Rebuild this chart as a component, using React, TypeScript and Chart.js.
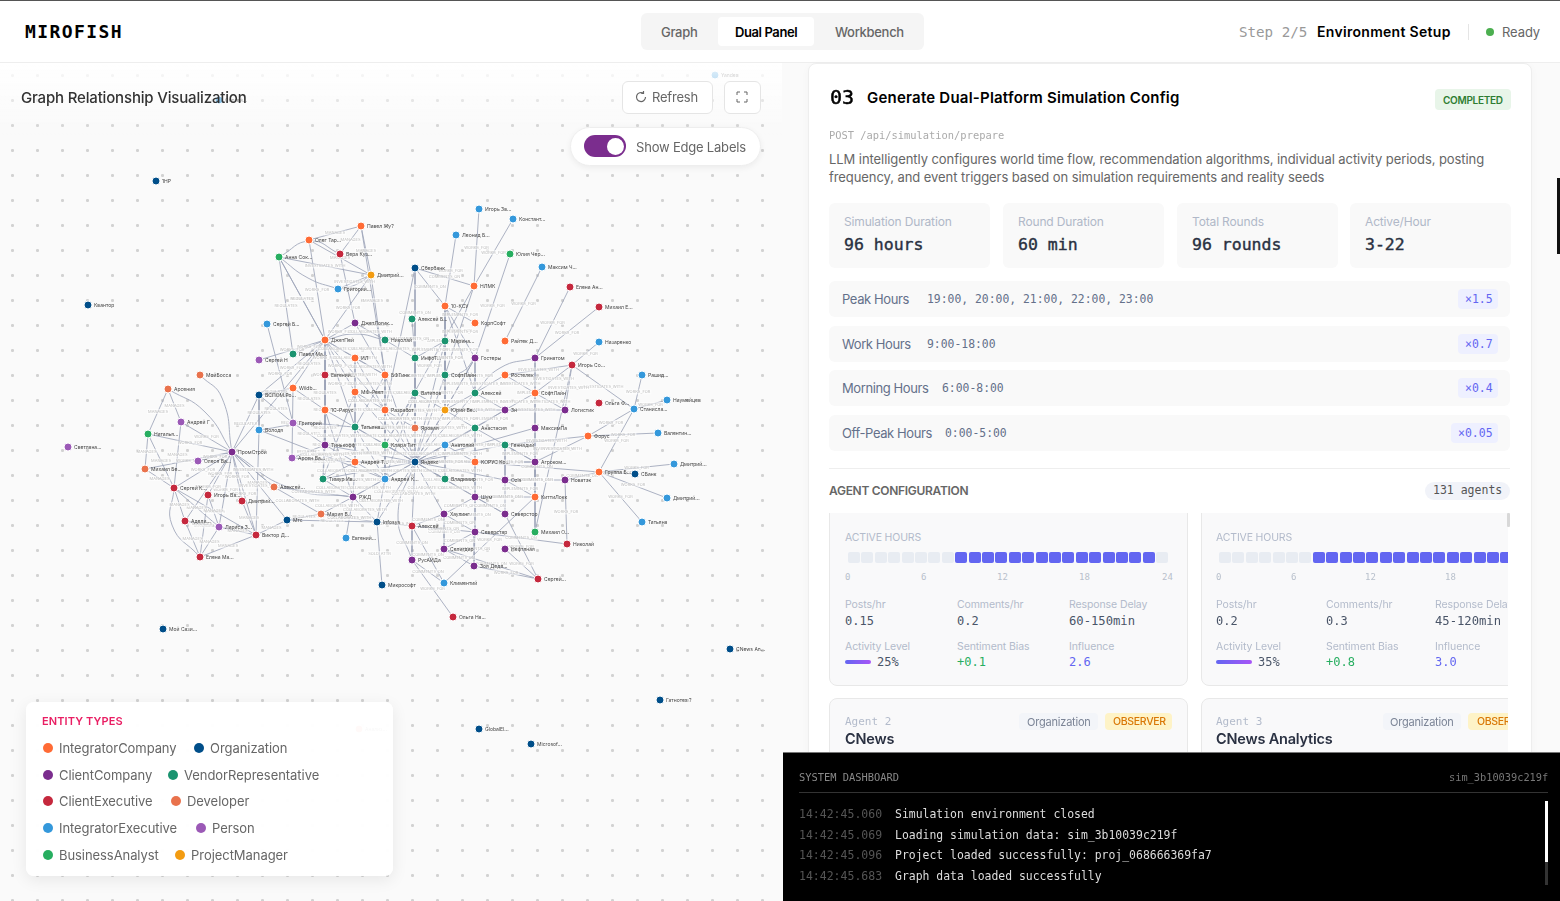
import { useEffect, useRef } from "react";
import type { CSSProperties, ReactNode } from "react";
import Chart from "chart.js/auto";

const SANS = "Inter, 'Noto Sans', sans-serif";
const MONO = "'DejaVu Sans Mono', 'Liberation Mono', monospace";

const typeNames = ["IntegratorCompany", "Organization", "ClientCompany", "VendorRepresentative", "ClientExecutive", "Developer", "IntegratorExecutive", "Person", "BusinessAnalyst", "ProjectManager"];
const typeColors = ["#FF6B35", "#004E89", "#7B2D8E", "#1A936F", "#C5283D", "#E9724C", "#3498DB", "#9B59B6", "#27AE60", "#F39C12"];

const nodeNames = [
  "Павел Жу?", "Олег Тар...", "Вера Куз...", "Анна Сок...", "Дмитрий...", "Григорий...", "ДжетЛогик...", "Сергей Б...", "ДжетПей", "Николай", "Павел Ма...", "Сергей Н", "ИЛ", "Евгений...", "БФТинк", "МойБосса", "Арсения", "Wildb...",
  "Игорь Зв...", "Констант...", "Леонид Б...", "Юлия Чер...", "Сбербанк", "Максим Ч...", "НЛМК", "Елена Ан...", "10-КСУ", "Михаил Е...", "Алексей Б...", "КорпСофт", "Марина...", "Райтек Д...", "Назаренко", "ИнфоТ...", "Гостеры", "Гринатом", "Игорь Со...", "СофтЛайн", "Ростелек", "Рашид...", "Ватипов", "Алексей", "СофтЛайн", "Ольга Ф...", "Наумейцев", "Станисла...", "Юрий Ве...", "Зн", "Логистик",
  "ВСПОМ.Ро...", "МФ-Реет", "1С-Рарус", "Разработ", "Андрей Г", "Григорий", "Татьяна...", "Яровая", "Анастасия", "МаксимПа", "Володя", "Наталья...", "Форус", "Валентин...", "Клара Тит", "Тинькофф", "Анатолий", "Геннадий", "ПромСтрой", "Арсен Ва...", "Олеся Ва...", "Яндекс", "Андрей Т...", "КОРУС Ко...", "Агроком...", "Дмитрий...", "Михаил Бе...", "Группа Б...", "СБанк", "Тимур Ив...", "Андрей К...", "Владимир", "Ozis", "Новатэк", "Сергей К...", "Алексей...", "Игорь Ва...", "РЖД", "Дмитрий...", "Шум", "КиттиЛокк", "Дмитрий...", "Мария В...", "Хаулинг", "Северстор", "Мтс", "Адели...", "Infosys", "Татьяна", "Алексей", "Лариса З...", "Северстар", "Михаил О...", "Виктор Д...", "Евгений...", "Николай", "Селигдар", "Нефтяная", "Елена Ма...", "РусАЙДа", "Зоя Дедя...", "Сергей...", "Климентий", "Микрософт", "Ольга На...",
  "1НР", "Квантор", "Мой Сази...", "CNews An...", "Гатнотех ?", "GlobalEl...", "Microsof...", "Светлана...", "Сергей...", "Yandex", "Анализ...",
];
const nodeX = [361, 309, 340, 279, 371, 338, 355, 267, 325, 385, 293, 259, 355, 325, 385, 200, 168, 293, 479, 513, 456, 510, 415, 542, 474, 570, 445, 599, 412, 475, 445, 505, 599, 415, 475, 535, 572, 445, 505, 642, 415, 475, 535, 599, 667, 634, 445, 505, 565, 259, 355, 325, 385, 181, 293, 355, 415, 475, 535, 259, 148, 588, 658, 385, 325, 445, 505, 232, 292, 198, 415, 355, 475, 535, 674, 145, 599, 635, 323, 385, 445, 505, 565, 174, 274, 208, 353, 242, 475, 535, 667, 321, 444, 505, 287, 185, 377, 642, 412, 219, 475, 535, 256, 346, 567, 444, 505, 200, 412, 474, 538, 444, 382, 453, 156, 88, 163, 730, 660, 479, 531, 68, 219, 715, 359];
const nodeY = [226, 240, 254, 257, 275, 289, 323, 324, 340, 340, 354, 360, 358, 375, 375, 375, 389, 388, 209, 219, 235, 254, 268, 267, 286, 287, 306, 307, 319, 323, 341, 341, 342, 358, 358, 358, 365, 375, 375, 375, 393, 393, 393, 403, 400, 409, 410, 410, 410, 395, 392, 410, 410, 422, 423, 427, 428, 428, 428, 430, 434, 436, 433, 445, 445, 445, 445, 452, 458, 461, 462, 462, 462, 462, 464, 469, 472, 474, 479, 479, 479, 480, 480, 488, 487, 495, 497, 501, 497, 497, 498, 514, 514, 514, 520, 521, 522, 522, 526, 527, 532, 532, 535, 538, 544, 549, 549, 557, 560, 566, 579, 583, 585, 617, 181, 305, 629, 649, 700, 729, 744, 447, 100, 75, 729];
const nodeTypes = [0, 0, 4, 8, 9, 6, 2, 6, 0, 3, 3, 7, 0, 4, 0, 5, 5, 0, 6, 6, 6, 8, 1, 6, 0, 4, 0, 4, 3, 0, 3, 0, 6, 3, 2, 2, 4, 3, 0, 6, 3, 3, 0, 4, 6, 6, 9, 2, 2, 1, 0, 0, 0, 7, 7, 3, 5, 3, 2, 6, 8, 0, 6, 8, 2, 6, 3, 2, 7, 7, 1, 0, 0, 2, 6, 5, 0, 1, 3, 6, 3, 2, 2, 4, 5, 4, 2, 4, 2, 0, 6, 5, 2, 2, 1, 4, 1, 6, 4, 7, 2, 8, 4, 6, 4, 2, 2, 4, 2, 2, 4, 6, 1, 4, 1, 1, 1, 1, 1, 1, 1, 7, 6, 6, 5];

const worksFor = [[3, 8], [4, 8], [6, 8], [10, 8], [11, 8], [1, 8], [7, 54], [18, 24], [19, 24], [20, 26], [21, 34], [23, 31], [25, 35], [27, 35], [32, 36], [39, 45], [44, 45], [45, 61], [45, 76], [61, 62], [76, 74], [76, 90], [76, 97], [82, 104], [108, 113], [53, 67], [60, 67], [69, 67], [85, 67], [87, 67], [99, 67], [102, 67], [83, 67], [75, 67], [95, 67], [84, 67], [93, 110], [106, 110], [109, 110], [89, 111], [8, 13], [8, 50], [8, 51], [8, 52], [8, 55], [8, 49], [8, 67], [24, 63], [24, 37]];
const manages = [[1, 0], [1, 4], [0, 2], [0, 4], [0, 14], [16, 53], [16, 60], [60, 83], [75, 83], [60, 75], [53, 83], [83, 99], [83, 102], [83, 95], [85, 107], [95, 107], [99, 107], [95, 99], [87, 102], [99, 102], [102, 107], [85, 99], [2, 6], [4, 14], [102, 59], [94, 102]];
const regulates = [[3, 10], [3, 8], [8, 17], [17, 51], [49, 17], [49, 54], [51, 64], [54, 64], [78, 64], [67, 49], [94, 96], [94, 91], [63, 79], [51, 78], [13, 51], [13, 64], [17, 68], [64, 68], [49, 59]];
const collaborates = [[70, 63], [70, 56], [70, 65], [70, 52], [70, 14], [70, 33], [70, 40], [70, 46], [70, 71], [70, 55], [70, 72], [70, 57], [70, 58], [70, 73], [70, 80], [70, 79], [70, 86], [70, 96], [70, 78], [70, 88], [70, 81], [70, 51], [70, 50], [70, 64], [70, 47], [70, 66], [70, 34], [70, 41], [70, 37], [70, 30], [70, 92], [70, 98], [70, 93], [8, 12], [8, 14], [6, 14], [12, 14], [12, 50], [12, 52], [14, 52], [14, 55], [50, 52], [50, 55], [50, 78], [51, 86], [55, 71], [55, 79], [52, 56], [52, 79], [52, 63], [14, 63], [9, 33], [9, 6], [33, 40], [33, 56], [40, 56], [40, 63], [40, 46], [40, 79], [71, 78], [71, 86], [71, 79], [71, 64], [78, 86], [86, 79], [86, 96], [86, 91], [86, 84], [79, 96], [96, 91], [96, 98], [86, 103], [91, 84], [59, 79], [68, 71]];
const implementsFor = [[26, 29], [26, 34], [26, 37], [26, 41], [26, 46], [37, 46], [37, 30], [30, 46], [30, 33], [41, 46], [41, 47], [34, 46], [34, 41], [57, 47], [57, 46], [57, 72], [57, 73], [65, 80], [65, 72], [66, 81], [66, 73], [72, 88], [72, 73], [73, 89], [81, 89], [88, 89], [58, 101], [35, 58]];
const commentsOn = [[22, 24], [22, 26], [22, 33], [22, 52], [28, 33], [76, 77], [76, 82], [76, 72], [82, 81], [105, 110], [105, 109], [100, 109], [100, 104], [100, 92], [100, 105], [92, 105], [92, 88], [88, 93], [88, 100], [93, 81], [98, 108], [108, 111], [98, 100], [98, 111], [92, 98]];
const investigates = [[36, 45], [36, 38], [36, 42], [36, 48], [36, 101], [42, 48], [42, 47], [38, 41], [38, 42], [47, 48], [46, 47], [61, 66], [61, 73], [67, 84], [67, 94], [3, 4], [5, 4]];
const soldAttr = [[96, 112]];

// from, to, bend point x, bend point y
const curvedEdges = [[3, 2, 310, 241], [16, 67, 205, 412], [15, 67, 222, 398], [83, 107, 172, 525], [3, 5, 308, 278], [5, 4, 355, 285], [8, 9, 355, 334], [35, 41, 500, 368], [67, 86, 290, 488], [59, 55, 305, 424], [70, 108, 398, 515], [34, 37, 462, 372]];

const edgeKinds: [string, number[][]][] = [
  ["WORKS_FOR", worksFor], ["MANAGES", manages], ["REGULATES", regulates], ["COLLABORATES_WITH", collaborates],
  ["IMPLEMENTS_FOR", implementsFor], ["COMMENTS_ON", commentsOn], ["INVESTIGATES_WITH", investigates], ["SOLD_ATTR", soldAttr],
];

const statLabels = ["Simulation Duration", "Round Duration", "Total Rounds", "Active/Hour"];
const statValues = ["96 hours", "60 min", "96 rounds", "3-22"];
const statLefts = [829, 1003, 1177, 1350];
const hourRows = [
  ["Peak Hours", "19:00, 20:00, 21:00, 22:00, 23:00", "×1.5", 281, 927, 1458],
  ["Work Hours", "9:00-18:00", "×0.7", 326, 927, 1458],
  ["Morning Hours", "6:00-8:00", "×0.4", 370, 942, 1458],
  ["Off-Peak Hours", "0:00-5:00", "×0.05", 415, 945, 1451],
] as const;
const logTimes = ["14:42:45.060", "14:42:45.069", "14:42:45.096", "14:42:45.683"];
const logLines = ["Simulation environment closed", "Loading simulation data: sim_3b10039c219f", "Project loaded successfully: proj_068666369fa7", "Graph data loaded successfully"];
const legendRows = [[0, 1, 199], [2, 3, 173], [4, 5, 176], [6, 7, 201], [8, 9, 180]];
const legendY = [748, 775, 801, 828, 855];

function T({ x, y, s, c, w, m, ls, stroke, children }: { x: number; y: number; s: number; c: string; w?: number; m?: boolean; ls?: number; stroke?: number; children: ReactNode }) {
  const st: CSSProperties = {
    position: "absolute", left: x, top: y, transform: "translateY(-50%)", fontSize: s, color: c, fontWeight: w ?? 400,
    fontFamily: m ? MONO : SANS, letterSpacing: ls ?? (m ? 0 : -0.1), whiteSpace: "nowrap", lineHeight: 1,
    WebkitTextStroke: stroke ? `${stroke}px ${c}` : undefined,
  };
  return <div style={st}>{children}</div>;
}

function Box({ x, y, w, h, bg, r, border, shadow, children, clip }: { x: number; y: number; w: number; h: number; bg?: string; r?: number; border?: string; shadow?: string; children?: ReactNode; clip?: boolean }) {
  return (
    <div style={{ position: "absolute", left: x, top: y, width: w, height: h, background: bg, borderRadius: r, border, boxShadow: shadow, boxSizing: "border-box", overflow: clip ? "hidden" : undefined }}>
      {children}
    </div>
  );
}

function Graph() {
  const ref = useRef<HTMLCanvasElement | null>(null);
  useEffect(() => {
    if (!ref.current) return;
    const pt = (i: number) => ({ x: nodeX[i], y: nodeY[i] });
    const gap = { x: NaN, y: NaN };
    const straight: any[] = [];
    edgeKinds.forEach(([, list]) => list.forEach(([a, b]) => straight.push(pt(a), pt(b), gap)));
    const curved: any[] = [];
    curvedEdges.forEach(([a, b, mx, my]) => curved.push(pt(a), { x: mx, y: my }, pt(b), gap));

    const edgeStyle = { showLine: true, pointRadius: 0, pointHoverRadius: 0, borderColor: "rgba(158,164,184,0.85)", borderWidth: 1, spanGaps: false };
    const nodeSets = typeNames.map((name, t) => ({
      label: name,
      data: nodeX.map((_, i) => i).filter((i) => nodeTypes[i] === t).map(pt),
      backgroundColor: typeColors[t],
      borderColor: "#ffffff",
      borderWidth: 1,
      pointRadius: 4,
      order: 0,
    }));

    const graphText = {
      id: "graphText",
      afterDatasetDraw(chart: any, args: any) {
        if (chart.data.datasets[args.index].label !== "edges") return;
        const ctx = chart.ctx;
        const sx = chart.scales.x;
        const sy = chart.scales.y;
        ctx.save();
        ctx.font = "4px Inter, sans-serif";
        ctx.textAlign = "center";
        ctx.textBaseline = "middle";
        edgeKinds.forEach(([label, list]) => list.forEach(([a, b]) => {
          const px = sx.getPixelForValue((nodeX[a] + nodeX[b]) / 2);
          const py = sy.getPixelForValue((nodeY[a] + nodeY[b]) / 2);
          const tw = ctx.measureText(label).width;
          ctx.fillStyle = "rgba(255,255,255,0.55)";
          ctx.fillRect(px - tw / 2 - 1, py - 2.5, tw + 2, 5);
          ctx.fillStyle = "#bdbdbd";
          ctx.fillText(label, px, py);
        }));
        ctx.restore();
      },
      afterDatasetsDraw(chart: any) {
        const ctx = chart.ctx;
        ctx.save();
        ctx.font = "5px Inter, sans-serif";
        ctx.textBaseline = "middle";
        ctx.fillStyle = "#444444";
        nodeNames.forEach((name, i) => {
          ctx.fillText(name, chart.scales.x.getPixelForValue(nodeX[i]) + 6, chart.scales.y.getPixelForValue(nodeY[i]));
        });
        ctx.restore();
      },
    };

    const chart = new Chart(ref.current, {
      type: "scatter",
      data: {
        datasets: [
          ...nodeSets,
          { label: "edges", data: straight, ...edgeStyle, order: 2 },
          { label: "curves", data: curved, ...edgeStyle, tension: 0.5, order: 3 },
        ] as any,
      },
      options: {
        animation: false,
        responsive: false,
        devicePixelRatio: 1,
        events: [],
        layout: { padding: 0, autoPadding: false },
        plugins: { legend: { display: false }, tooltip: { enabled: false } },
        scales: {
          x: { type: "linear", display: false, min: 0, max: 782 },
          y: { type: "linear", display: false, min: 63, max: 901, reverse: true },
        },
      },
      plugins: [graphText],
    });
    return () => chart.destroy();
  }, []);
  return <canvas ref={ref} width={782} height={838} style={{ position: "absolute", left: 0, top: 63, width: 782, height: 838 }} />;
}

function HourBlocks({ x, from, to }: { x: number; from: number; to: number }) {
  const hours = Array.from({ length: 24 }, (_, h) => h);
  return (
    <>
      {hours.map((h) => (
        <Box key={h} x={x + h * 13.4} y={552} w={12} h={11} r={2} bg={h >= from && h <= to ? "#6366F1" : "#E8ECF2"} />
      ))}
    </>
  );
}

function AgentStats({ left, c2, c3, posts, comments, delay, level, barW, bias, influence, ticks }: any) {
  const lab = "#B3BBCB";
  return (
    <>
      <T x={left} y={538} s={10.5} c={lab} ls={-0.15}>ACTIVE HOURS</T>
      <HourBlocks x={left + 3} from={ticks.from} to={ticks.to} />
      {ticks.pos.map((px: number, i: number) => (
        <T key={i} x={px} y={577} s={9} c="#B8C0CC" m>{ticks.labels[i]}</T>
      ))}
      <T x={left} y={605} s={10.5} c={lab}>Posts/hr</T>
      <T x={c2} y={605} s={10.5} c={lab}>Comments/hr</T>
      <T x={c3} y={605} s={10.5} c={lab}>Response Delay</T>
      <T x={left} y={621} s={12} c="#4A5568" m>{posts}</T>
      <T x={c2} y={621} s={12} c="#4A5568" m>{comments}</T>
      <T x={c3} y={621} s={12.2} c="#4A5568" m>{delay}</T>
      <T x={left} y={647} s={10.5} c={lab}>Activity Level</T>
      <T x={c2} y={647} s={10.5} c={lab}>Sentiment Bias</T>
      <T x={c3} y={647} s={10.5} c={lab}>Influence</T>
      <div style={{ position: "absolute", left, top: 660, width: barW, height: 4, borderRadius: 2, background: "linear-gradient(90deg,#6366F1,#A855F7)" }} />
      <T x={left + barW + 6} y={662} s={12} c="#4A5568" m>{level}</T>
      <T x={c2} y={662} s={12} c="#27AE60" m>{bias}</T>
      <T x={c3} y={662} s={12} c="#6366F1" m>{influence}</T>
    </>
  );
}

export default function App() {
  return (
    <div style={{ position: "fixed", left: 0, top: 0, width: 1560, height: 901, overflow: "hidden", background: "#FAFAFA", fontFamily: SANS }}>
      {/* left graph panel */}
      <div style={{ position: "absolute", left: 0, top: 63, width: 782, height: 838, background: "#FAFAFA", backgroundImage: "radial-gradient(circle, #D2D2D2 1.3px, transparent 1.7px)", backgroundSize: "25px 25px" }} />
      <Graph />
      <div style={{ position: "absolute", left: 0, top: 63, width: 782, height: 72, background: "linear-gradient(to bottom, rgba(255,255,255,0.92), rgba(255,255,255,0))" }} />
      <T x={21} y={97} s={15} c="#333333" w={500} ls={-0.17}>Graph Relationship Visualization</T>
      <Box x={622} y={81} w={91} h={33} bg="#FFFFFF" r={6} border="1px solid #E5E5E5" />
      <svg style={{ position: "absolute", left: 634, top: 90 }} width={14} height={14} viewBox="0 0 14 14" fill="none" stroke="#666666" strokeWidth={1.2}>
        <path d="M11.5 7a4.5 4.5 0 1 1-2-3.7M9.5 1v2.4h-2.4" />
      </svg>
      <T x={652} y={97} s={13} c="#666666" ls={-0.2}>Refresh</T>
      <Box x={724} y={81} w={37} h={33} bg="#FFFFFF" r={6} border="1px solid #E5E5E5" />
      <svg style={{ position: "absolute", left: 736, top: 91 }} width={12} height={12} viewBox="0 0 12 12" fill="none" stroke="#666666" strokeWidth={1}>
        <path d="M1 4V1h3M8 1h3v3M11 8v3H8M4 11H1V8" />
      </svg>
      <Box x={570} y={127} w={191} h={39} bg="#FFFFFF" r={20} border="1px solid #EEEEEE" shadow="0 2px 6px rgba(0,0,0,0.06)" />
      <Box x={584} y={135} w={42} h={22} bg="#7B2D8E" r={11} />
      <Box x={607} y={138} w={17} h={17} bg="#FFFFFF" r={9} />
      <T x={636} y={147} s={13} c="#666666" ls={-0.2}>Show Edge Labels</T>

      {/* legend */}
      <Box x={26} y={702} w={367} h={174} bg="rgba(255,255,255,0.96)" r={8} shadow="0 4px 16px rgba(0,0,0,0.08)" />
      <T x={42} y={721} s={11} c="#E91E63" w={600} ls={0.1}>ENTITY TYPES</T>
      {legendRows.map(([a, b, dx], i) => (
        <div key={i}>
          <Box x={43} y={legendY[i] - 5} w={10} h={10} r={5} bg={typeColors[a]} />
          <T x={59} y={legendY[i]} s={13} c="#666666" ls={-0.07}>{typeNames[a]}</T>
          <Box x={dx - 5} y={legendY[i] - 5} w={10} h={10} r={5} bg={typeColors[b]} />
          <T x={dx + 11} y={legendY[i]} s={13} c="#666666" ls={-0.05}>{typeNames[b]}</T>
        </div>
      ))}

      {/* header */}
      <Box x={0} y={0} w={1560} h={63} bg="#FFFFFF" border="none" />
      <Box x={0} y={0} w={1560} h={1} bg="#555555" />
      <Box x={0} y={62} w={1560} h={1} bg="#EEEEEE" />
      <T x={25} y={32} s={18} c="#000000" w={700} m ls={1.4}>MIROFISH</T>
      <Box x={641} y={13} w={283} h={37} bg="#F5F5F5" r={6} />
      <Box x={718} y={17} w={96} h={29} bg="#FFFFFF" r={4} />
      <T x={661} y={32} s={13} c="#666666" w={500} ls={-0.3}>Graph</T>
      <T x={735} y={32} s={13} c="#000000" w={600} ls={-0.4}>Dual Panel</T>
      <T x={835} y={32} s={13} c="#666666" w={500} ls={-0.3}>Workbench</T>
      <T x={1239} y={32} s={14.2} c="#999999" m>Step 2/5</T>
      <T x={1317} y={32} s={14} c="#000000" w={600} ls={0.3}>Environment Setup</T>
      <Box x={1468} y={24} w={1} h={16} bg="#E5E5E5" />
      <Box x={1486} y={28} w={8} h={8} r={4} bg="#4CAF50" />
      <T x={1502} y={32} s={13} c="#666666">Ready</T>

      {/* right panel */}
      <Box x={808} y={63} w={724} h={700} bg="#FFFFFF" r={8} border="1px solid #EEEEEE" shadow="0 2px 8px rgba(0,0,0,0.03)" />
      <T x={830} y={97} s={20} c="#000000" m stroke={0.5}>03</T>
      <T x={867} y={97} s={15} c="#000000" w={600} ls={0.22}>Generate Dual-Platform Simulation Config</T>
      <Box x={1435} y={89} w={76} h={21} bg="#E8F5E9" r={4} />
      <T x={1443} y={100} s={10} c="#2E7D32" w={600} ls={-0.3}>COMPLETED</T>
      <T x={829} y={135} s={10.4} c="#AAAAAA" m>POST /api/simulation/prepare</T>
      <T x={829} y={159} s={13} c="#666666" ls={-0.07}>LLM intelligently configures world time flow, recommendation algorithms, individual activity periods, posting</T>
      <T x={829} y={177} s={13} c="#666666" ls={-0.07}>frequency, and event triggers based on simulation requirements and reality seeds</T>
      {statLabels.map((label, i) => (
        <div key={label}>
          <Box x={statLefts[i]} y={203} w={161} h={65} bg="#F9F9F9" r={6} />
          <T x={statLefts[i] + 15} y={222} s={12} c="#B0B8C8" ls={-0.15}>{label}</T>
          <T x={statLefts[i] + 15} y={245} s={16.5} c="#2A3142" m stroke={0.4}>{statValues[i]}</T>
        </div>
      ))}
      {hourRows.map(([label, value, mult, top, vx, bx]) => (
        <div key={label}>
          <Box x={829} y={top} w={681} h={36} bg="#F9F9F9" r={6} />
          <T x={842} y={top + 18} s={13} c="#64708A" ls={-0.4}>{label}</T>
          <T x={vx} y={top + 19} s={11.4} c="#64708A" m>{value}</T>
          <Box x={bx} y={top + 8} w={1498 - bx} h={20} bg="#EEF0FF" r={4} />
          <T x={bx + 7} y={top + 19} s={11.5} c="#6366F1" m>{mult}</T>
        </div>
      ))}
      <Box x={829} y={468} w={681} h={1} bg="#EEEEEE" />
      <T x={829} y={491} s={12} c="#666666" w={600} ls={-0.3}>AGENT CONFIGURATION</T>
      <Box x={1425} y={482} w={85} h={18} bg="#F1F3F9" r={9} />
      <T x={1433} y={491} s={11.5} c="#555555" m>131 agents</T>

      {/* agent cards, clipped by their scroller */}
      <div style={{ position: "absolute", left: 0, top: 513, width: 1508, height: 240, overflow: "hidden" }}>
        <div style={{ position: "absolute", left: 0, top: -513, width: 1560, height: 901 }}>
          <Box x={829} y={500} w={359} h={186} bg="#F9F9FA" r={8} border="1px solid #E8E8E8" />
          <Box x={1201} y={500} w={359} h={186} bg="#F9F9FA" r={8} border="1px solid #E8E8E8" />
          <AgentStats left={845} c2={957} c3={1069} posts="0.15" comments="0.2" delay="60-150min" level="25%" barW={26} bias="+0.1" influence="2.6"
            ticks={{ from: 8, to: 22, pos: [845, 921, 997, 1079, 1162], labels: ["0", "6", "12", "18", "24"] }} />
          <AgentStats left={1216} c2={1326} c3={1435} posts="0.2" comments="0.3" delay="45-120min" level="35%" barW={36} bias="+0.8" influence="3.0"
            ticks={{ from: 7, to: 21, pos: [1216, 1291, 1365, 1445], labels: ["0", "6", "12", "18"] }} />
          <Box x={829} y={698} w={359} h={120} bg="#F9F9FA" r={8} border="1px solid #E8E8E8" />
          <Box x={1201} y={698} w={359} h={120} bg="#F9F9FA" r={8} border="1px solid #E8E8E8" />
          <T x={845} y={721} s={11} c="#B3BBCB" m>Agent 2</T>
          <T x={845} y={739} s={14.5} c="#2A3142" w={600} ls={-0.2}>CNews</T>
          <Box x={1019} y={713} w={79} h={17} bg="#F3F5F9" r={4} />
          <T x={1027} y={722} s={11} c="#7B8496" ls={-0.2}>Organization</T>
          <Box x={1105} y={713} w={67} h={17} bg="#FEF3C7" r={4} />
          <T x={1113} y={722} s={10.5} c="#D97706" w={500} ls={-0.3}>OBSERVER</T>
          <T x={1216} y={721} s={11} c="#B3BBCB" m>Agent 3</T>
          <T x={1216} y={739} s={14.5} c="#2A3142" w={600} ls={-0.2}>CNews Analytics</T>
          <Box x={1383} y={713} w={78} h={17} bg="#F3F5F9" r={4} />
          <T x={1390} y={722} s={11} c="#7B8496" ls={-0.2}>Organization</T>
          <Box x={1468} y={713} w={67} h={17} bg="#FEF3C7" r={4} />
          <T x={1477} y={722} s={10.5} c="#D97706" w={500} ls={-0.3}>OBSERVER</T>
        </div>
      </div>
      <Box x={1507} y={513} w={3} h={14} bg="#D8D8D8" r={1} />
      <Box x={1557} y={178} w={3} h={76} bg="#111111" />

      {/* terminal */}
      <Box x={783} y={752} w={777} h={149} bg="#000000" />
      <Box x={783} y={752} w={777} h={1} bg="#777777" />
      <T x={799} y={777} s={10.4} c="#888888" m>SYSTEM DASHBOARD</T>
      <T x={1449} y={777} s={10.3} c="#777777" m>sim_3b10039c219f</T>
      <Box x={799} y={792} w={749} h={1} bg="#333333" />
      {logTimes.map((t, i) => (
        <div key={t}>
          <T x={799} y={815 + i * 20.5} s={11.5} c="#555555" m>{t}</T>
          <T x={895} y={815 + i * 20.5} s={11.45} c="#DDDDDD" m>{logLines[i]}</T>
        </div>
      ))}
      <Box x={1545} y={801} w={3} h={61} bg="#FFFFFF" />
      <Box x={1545} y={862} w={3} h={23} bg="#333333" />
    </div>
  );
}
